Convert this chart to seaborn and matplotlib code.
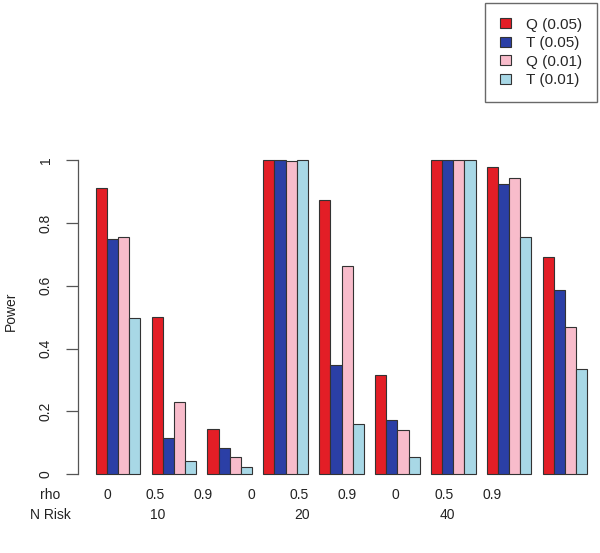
import matplotlib
matplotlib.use("Agg")
import matplotlib.pyplot as plt
import numpy as np
import pandas as pd
import seaborn as sns

n_risk = ["10", "20", "40"]
rho = ["0", "0.5", "0.9"]
series = ["Q (0.05)", "T (0.05)", "Q (0.01)", "T (0.01)"]
q_05 = [0.91, 0.50, 0.145, 1.0, 0.873, 0.316, 1.0, 0.979, 0.69]
t_05 = [0.748, 0.117, 0.085, 1.0, 0.348, 0.173, 1.0, 0.923, 0.586]
q_01 = [0.754, 0.231, 0.055, 0.997, 0.663, 0.141, 1.0, 0.942, 0.468]
t_01 = [0.498, 0.042, 0.023, 1.0, 0.159, 0.054, 1.0, 0.755, 0.334]
colors = ["#E31E26", "#2B3FA6", "#F8BCCB", "#A8D8E6"]

groups = [n + "_" + r for n in n_risk for r in rho]
rows = []
for name, vals in zip(series, [q_05, t_05, q_01, t_01]):
    for g, v in zip(groups, vals):
        rows.append({"group": g, "series": name, "power": v})
df = pd.DataFrame(rows)

sns.set_style("white")
plt.rcParams["font.family"] = ["Liberation Sans", "DejaVu Sans"]

fig = plt.figure(figsize=(6.0, 5.53), dpi=100)
ax = fig.add_axes([0.13, 0.1423, 0.87, 0.591])
sns.barplot(data=df, x="group", y="power", hue="series", order=groups,
            hue_order=series, palette=colors, width=0.8, saturation=1,
            edgecolor="#333333", linewidth=0.8, ax=ax)

ax.set_xlim(-0.718, 8.628)
ax.set_ylim(0, 1.04)
for b in ax.patches:
    b.set_clip_on(False)
for s in ["top", "right", "bottom"]:
    ax.spines[s].set_visible(False)
ax.spines["left"].set_bounds(0, 1)
ax.spines["left"].set_color("#555555")
ax.spines["left"].set_linewidth(0.9)
ax.set_xticks([])
ax.set_xlabel("")
ax.set_yticks([0, 0.2, 0.4, 0.6, 0.8, 1.0])
ax.set_yticklabels(["0", "0.2", "0.4", "0.6", "0.8", "1"], rotation=90,
                   va="center", fontsize=10)
ax.tick_params(axis="y", left=True, length=9, width=0.9, color="#555555",
               pad=9, labelcolor="#222222")
ax.set_ylabel("Power", fontsize=10, color="#222222", labelpad=15)

# rho and N Risk rows under the bars
W, H = 600.0, 553.0
fig.text(50 / W, 1 - 495 / H, "rho", ha="center", va="center", fontsize=10, color="#222222")
fig.text(50 / W, 1 - 515 / H, "N Risk", ha="center", va="center", fontsize=10, color="#222222")
for i, g in enumerate(groups):
    fig.text((107 + 48.1 * i) / W, 1 - 495 / H, g.split("_")[1], ha="center",
             va="center", fontsize=10, color="#222222")
for j, n in enumerate(n_risk):
    fig.text((158 + 144.5 * j) / W, 1 - 515 / H, n, ha="center", va="center",
             fontsize=10, color="#222222")

handles, labels = ax.get_legend_handles_labels()
ax.legend(handles, labels, loc="upper right", bbox_to_anchor=(597 / W, 1 - 3 / H),
          bbox_transform=fig.transFigure, fontsize=11, frameon=True,
          fancybox=False, edgecolor="#444444", handlelength=0.75,
          handleheight=0.6, handletextpad=1.0, labelspacing=0.3,
          borderpad=0.95, borderaxespad=0)
ax.get_legend().get_frame().set_linewidth(1.0)

fig.savefig("out.png", dpi=100)
